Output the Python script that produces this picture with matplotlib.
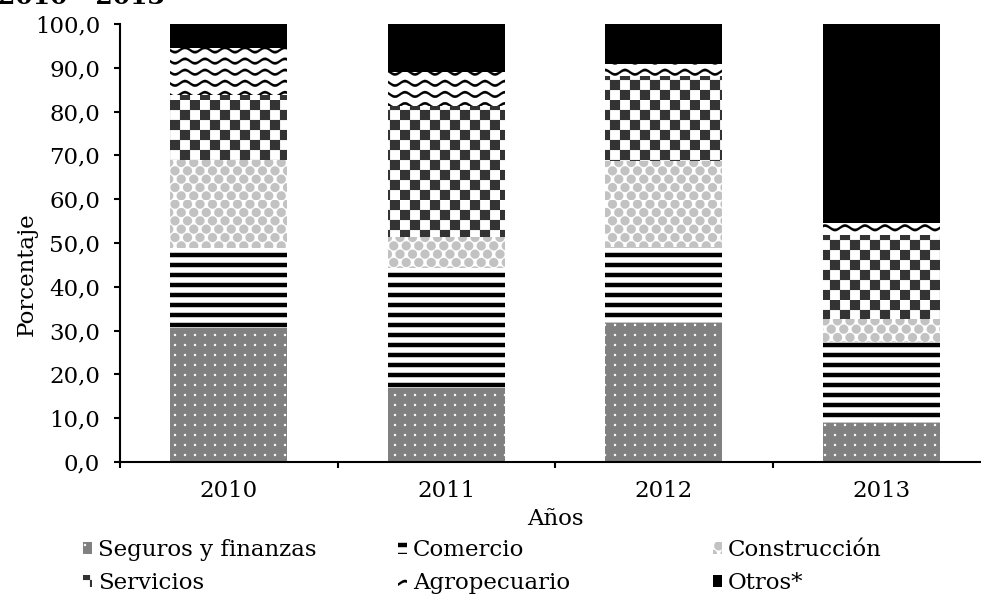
import numpy as np
import matplotlib
matplotlib.use("Agg")
import matplotlib.pyplot as plt
import matplotlib.hatch as mhatch
from matplotlib.path import Path

# ---------------- data ----------------
years = ["2010", "2011", "2012", "2013"]
seguros = [30.6, 16.8, 31.8, 8.8]
comercio = [18.3, 27.4, 17.4, 18.7]
construccion = [20.0, 7.1, 19.5, 5.1]
servicios = [14.9, 30.0, 19.5, 19.2]
agropecuario = [10.7, 7.8, 2.6, 2.7]
otros = [5.5, 10.9, 9.2, 45.5]
series_names = ["Seguros y finanzas", "Comercio", "Construcción",
                "Servicios", "Agropecuario", "Otros*"]
ytick_values = [0, 10, 20, 30, 40, 50, 60, 70, 80, 90, 100]
ytick_labels = ["0,0", "10,0", "20,0", "30,0", "40,0", "50,0",
                "60,0", "70,0", "80,0", "90,0", "100,0"]
title_text = "2010 - 2013"
xlabel_text = "Años"
ylabel_text = "Porcentaje"

# ---------------- custom fill patterns (hatches) ----------------
def _poly(pts):
    pts = list(pts)
    v = pts + [pts[0]]
    c = [Path.MOVETO] + [Path.LINETO] * (len(pts) - 1) + [Path.CLOSEPOLY]
    return v, c

def _circle(cx, cy, r, n=12):
    a = np.linspace(0, 2 * np.pi, n, endpoint=False)
    return _poly(list(zip(cx + r * np.cos(a), cy + r * np.sin(a))))

def _rect(x0, y0, x1, y1):
    return _poly([(x0, y0), (x1, y0), (x1, y1), (x0, y1)])

def _build_dots():
    out = []
    n = 10
    for i in range(n):
        for j in range(n):
            out.append(_circle((i + 0.5) / n, (j + 0.5) / n, 0.012, 8))
    return out

def _build_stripes():
    out = []
    n = 10
    t = 0.021
    for j in range(n):
        yc = (j + 0.5) / n
        out.append(_rect(-0.01, yc - t, 1.01, yc + t))
    return out

def _build_checker():
    out = []
    n = 10
    s = 1.0 / n
    for i in range(n):
        for j in range(n):
            if (i + j) % 2 == 0:
                out.append(_rect(i * s, j * s, (i + 1) * s, (j + 1) * s))
    return out

def _build_spheres():
    out = []
    ncol, nrow = 8, 12
    r = 0.046
    for j in range(nrow):
        yc = (j + 0.5) / nrow
        shift = 0.0 if j % 2 == 0 else 0.5 / ncol
        for i in range(-1, ncol + 1):
            xc = (i + 0.5) / ncol + shift
            out.append(_circle(xc, yc, r, 16))
    return out

def _build_waves():
    out = []
    nrow, nper = 9, 5
    amp, t = 0.022, 0.013
    x = np.linspace(0, 1, 201)
    for j in range(nrow):
        yc = (j + 0.5) / nrow
        y = yc + amp * np.sin(2 * np.pi * nper * x)
        top = list(zip(x, y + t))
        bot = list(zip(x[::-1], (y - t)[::-1]))
        out.append(_poly(top + bot))
    return out

_BUILDERS = {".": _build_dots, "-": _build_stripes, "+": _build_checker,
             "o": _build_spheres, "x": _build_waves}
_CACHE = {}

def _get(ch):
    if ch not in _CACHE:
        parts = _BUILDERS[ch]()
        v = np.concatenate([np.asarray(p[0], float) for p in parts])
        c = np.concatenate([np.asarray(p[1], Path.code_type) for p in parts])
        _CACHE[ch] = (v, c)
    return _CACHE[ch]

def _make_cls(ch):
    class _Pat(mhatch.HatchPatternBase):
        def __init__(self, hatch, density):
            self.active = hatch is not None and ch in hatch
            self.num_vertices = len(_get(ch)[0]) if self.active else 0

        def set_vertices_and_codes(self, vertices, codes):
            v, c = _get(ch)
            vertices[:] = v
            codes[:] = c
    return _Pat

mhatch._hatch_types = [_make_cls(ch) for ch in [".", "-", "o", "+", "x"]]

plt.rcParams["hatch.linewidth"] = 0.1
plt.rcParams["font.family"] = ["DejaVu Serif"]
FS = 16.5

# ---------------- figure ----------------
W, H = 981, 600
fig = plt.figure(figsize=(W / 100, H / 100), dpi=100)
ax = fig.add_axes([120 / W, 138 / H, 870 / W, 438 / H])

series = [seguros, comercio, construccion, servicios, agropecuario, otros]
faces = ["#808080", "white", "white", "white", "white", "black"]
hatch_cols = ["white", "black", "#c2c2c2", "#333333", "black", "black"]
hatches = [".", "-", "o", "+", "x", None]

x = np.arange(len(years))
bottom = np.zeros(len(years))
containers = []
for vals, name, fc, hc, ht in zip(series, series_names, faces, hatch_cols, hatches):
    bc = ax.bar(x, vals, 0.54, bottom=bottom, color=fc, edgecolor=hc,
                hatch=ht, linewidth=0, label=name)
    containers.append(bc)
    bottom = bottom + np.asarray(vals)

ax.set_xlim(-0.5, len(years) - 0.5)
ax.set_ylim(0, 100)
for s in ["top", "right"]:
    ax.spines[s].set_visible(False)
for s in ["left", "bottom"]:
    ax.spines[s].set_linewidth(1.5)

ax.set_yticks(ytick_values)
ax.set_yticklabels(ytick_labels)
ax.set_xticks(x)
ax.set_xticklabels(years)
ax.set_xticks(np.arange(-0.5, len(years), 1.0), minor=True)
ax.tick_params(axis="y", which="major", length=4.3, width=1.5, pad=10,
               labelsize=FS, direction="out")
ax.tick_params(axis="x", which="major", length=0, pad=13, labelsize=FS)
ax.tick_params(axis="x", which="minor", length=4.3, width=1.5, direction="out")

fig.text(555 / W, 1 - 519 / H, xlabel_text, ha="center", va="center", fontsize=FS)
fig.text(27 / W, 1 - 274 / H, ylabel_text, ha="center", va="center",
         rotation=90, fontsize=FS)
fig.text(-0.002, 1 - 4 / H, title_text, ha="left", va="baseline",
         fontsize=18, fontweight="bold")

# legend: three equal-width columns of two entries
cols = [(0, 3), (1, 4), (2, 5)]
col_x = [83, 398, 713]
for (a, b), cx in zip(cols, col_x):
    fig.legend([containers[a], containers[b]],
               [series_names[a], series_names[b]],
               loc="upper left", bbox_to_anchor=(cx / W, 1 - 539 / H),
               frameon=False, prop={"family": "DejaVu Serif", "size": FS},
               borderpad=0, borderaxespad=0,
               handlelength=0.4, handleheight=0.4, handletextpad=0.25,
               labelspacing=0.5)

fig.savefig("out.png", dpi=100)
